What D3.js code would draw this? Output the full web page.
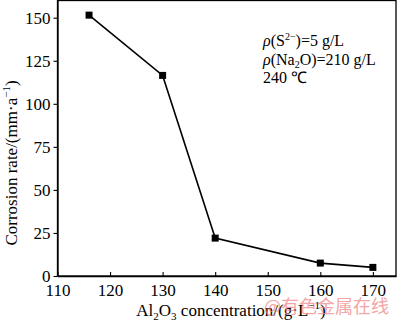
<!DOCTYPE html>
<html><head><meta charset="utf-8">
<script src="https://cdn.jsdelivr.net/npm/d3@7/dist/d3.min.js"></script>
<style>body{margin:0;background:#fff}svg{display:block}</style>
</head><body>
<script>
const concentration = [116, 130, 140, 160, 170];
const corrosionRate = [151.5, 116.5, 22, 7.5, 5];
const xTicks = [110, 120, 130, 140, 150, 160, 170];
const yTicks = [0, 25, 50, 75, 100, 125, 150];

const SERIF = "'Liberation Serif','Times New Roman',serif";
const W = 400, H = 321;
const svg = d3.select("body").append("svg").attr("width", W).attr("height", H)
  .attr("font-family", SERIF);
const x = d3.scaleLinear().domain([110, 174.4]).range([57.5, 396]);
const y = d3.scaleLinear().domain([0, 160]).range([276, 0.5]);

// frame
svg.append("rect").attr("x", x(110)).attr("y", y(160)).attr("width", x(174.4) - x(110)).attr("height", y(0) - y(160))
  .attr("fill", "none").attr("stroke", "#000").attr("stroke-width", 1.3);

const xa = svg.append("g").attr("transform", `translate(0,${y(0)})`)
  .call(d3.axisBottom(x).tickValues(xTicks).tickSizeInner(-4).tickSizeOuter(0).tickPadding(8));
const ya = svg.append("g").attr("transform", `translate(${x(110)},0)`)
  .call(d3.axisLeft(y).tickValues(yTicks).tickSizeInner(4).tickSizeOuter(0).tickPadding(3));
[xa, ya].forEach(a => {
  a.attr("font-family", SERIF).attr("font-size", 17);
  a.select(".domain").attr("stroke-width", 1.3);
  a.selectAll(".tick line").attr("stroke-width", 1.1);
  a.selectAll("text").attr("font-family", SERIF).attr("font-size", 17).attr("fill", "#000");
});
xa.selectAll("text").attr("dy", "0.72em");

const pts = concentration.map((c, i) => [c, corrosionRate[i]]);
svg.append("path").datum(pts)
  .attr("d", d3.line().x(d => x(d[0])).y(d => y(d[1])))
  .attr("fill", "none").attr("stroke", "#000").attr("stroke-width", 1.6);
svg.selectAll(".m").data(pts).enter().append("rect")
  .attr("x", d => x(d[0]) - 3.5).attr("y", d => y(d[1]) - 3.5)
  .attr("width", 7).attr("height", 7).attr("fill", "#000");

// axis labels
const xl = svg.append("text").attr("x", 231).attr("y", 316).attr("text-anchor", "middle").attr("font-size", 17);
xl.append("tspan").text("Al");
xl.append("tspan").text("2").attr("font-size", 11).attr("dy", 4);
xl.append("tspan").text("O").attr("dy", -4);
xl.append("tspan").text("3").attr("font-size", 11).attr("dy", 4);
xl.append("tspan").text(" concentration/(g\u00B7L").attr("dy", -4);
xl.append("tspan").text("\u22121").attr("font-size", 11).attr("dy", -7);
xl.append("tspan").text(")").attr("dy", 7);

const yl = svg.append("text").attr("transform", "translate(17,163) rotate(-90)").attr("text-anchor", "middle").attr("font-size", 17);
yl.append("tspan").text("Corrosion rate/(mm\u00B7a");
yl.append("tspan").text("\u22121").attr("font-size", 11).attr("dy", -7);
yl.append("tspan").text(")").attr("dy", 7);

// annotations
const a1 = svg.append("text").attr("x", 263).attr("y", 46).attr("font-size", 16);
a1.append("tspan").text("\u03C1").attr("font-style", "italic");
a1.append("tspan").text("(S");
a1.append("tspan").text("2\u2212").attr("font-size", 10).attr("dy", -6);
a1.append("tspan").text(")=5 g/L").attr("dy", 6);
const a2 = svg.append("text").attr("x", 263).attr("y", 65).attr("font-size", 16);
a2.append("tspan").text("\u03C1").attr("font-style", "italic");
a2.append("tspan").text("(Na");
a2.append("tspan").text("2").attr("font-size", 10).attr("dy", 3);
a2.append("tspan").text("O)=210 g/L").attr("dy", -3);
svg.append("text").attr("x", 263).attr("y", 83).attr("font-size", 16).text("240 \u2103");

// watermark
svg.append("text").attr("x", 264).attr("y", 313).attr("font-size", 18)
  .attr("fill", "#f08080").attr("opacity", 0.7)
  .attr("font-family", "'Noto Sans CJK SC',sans-serif").text("@有色金属在线");
</script>
</body></html>
